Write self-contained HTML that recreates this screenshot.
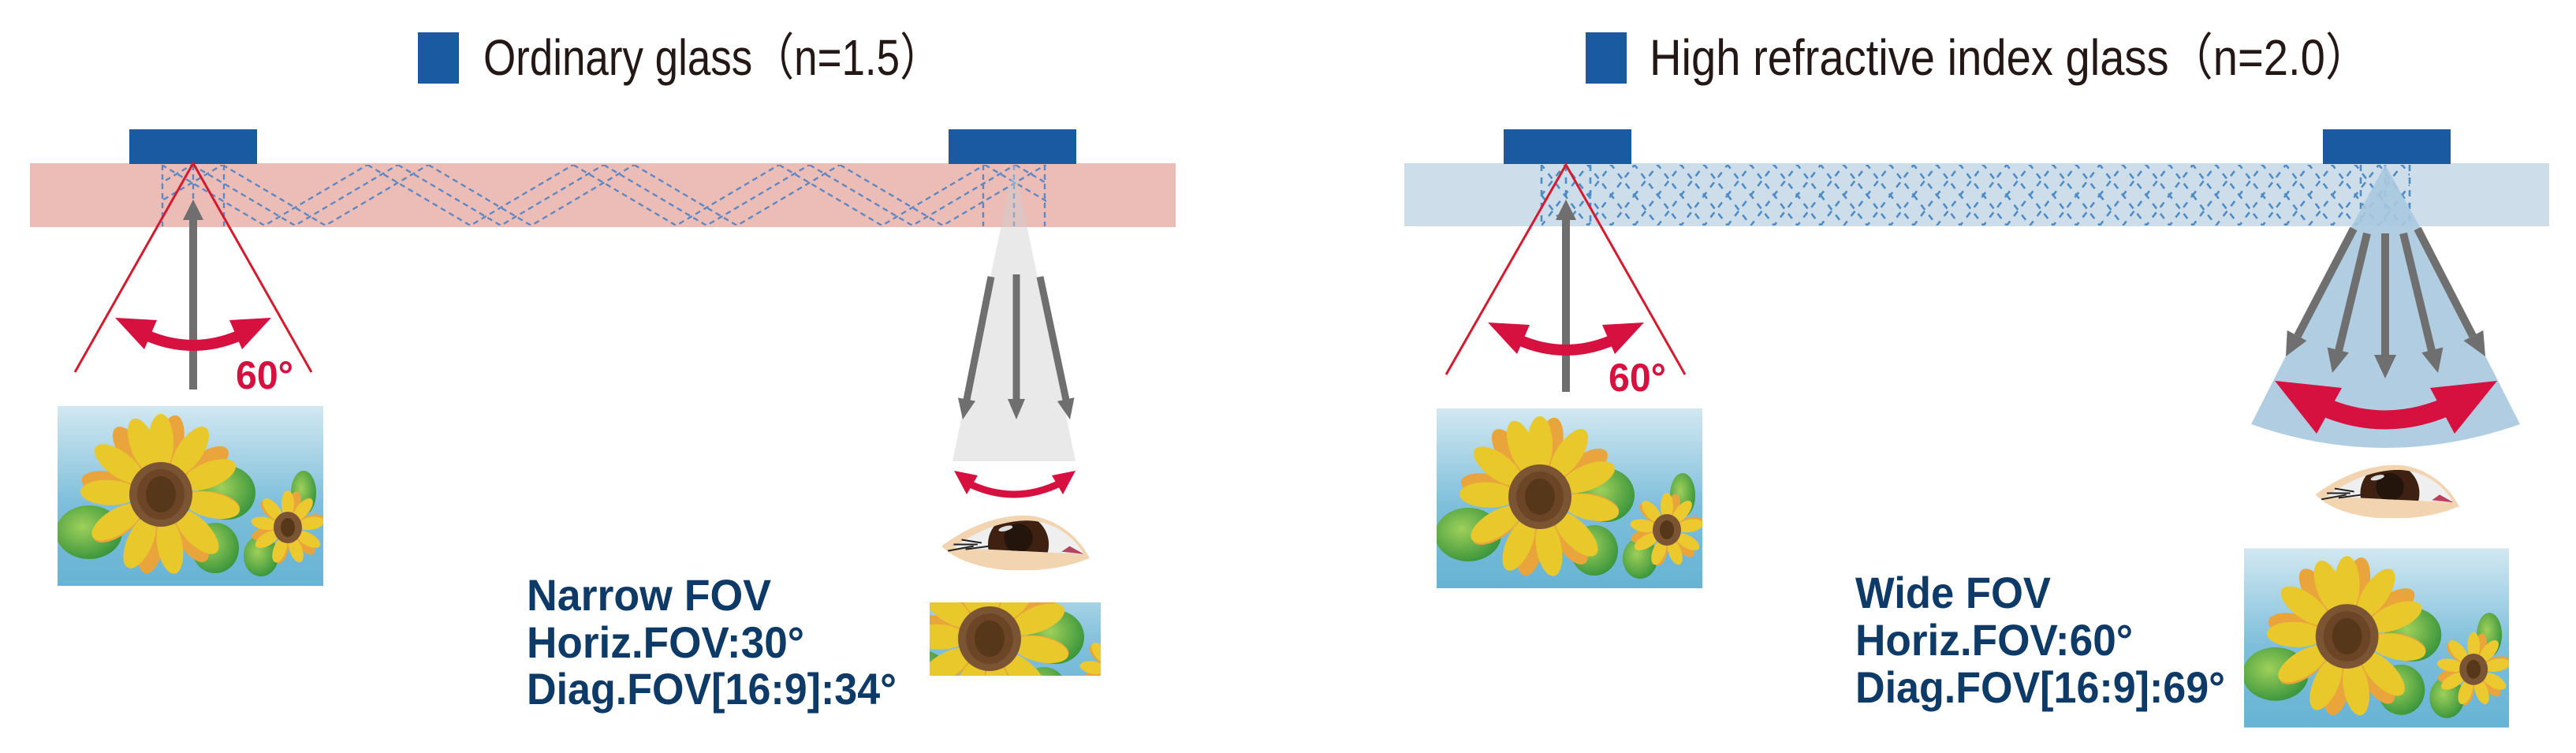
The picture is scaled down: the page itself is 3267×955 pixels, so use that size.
<!DOCTYPE html>
<html><head><meta charset="utf-8"><style>
html,body{margin:0;padding:0;background:#fff;}
svg{display:block;}
</style></head><body>
<svg width="3267" height="955" viewBox="0 0 3267 955" xmlns="http://www.w3.org/2000/svg">
<defs>
 <linearGradient id="sky" x1="0" y1="0" x2="0" y2="1">
  <stop offset="0" stop-color="#d2e8f1"/><stop offset="0.55" stop-color="#7dbedb"/><stop offset="1" stop-color="#67b3d4"/>
 </linearGradient>
 <radialGradient id="leaf" cx="0.4" cy="0.4" r="0.7">
  <stop offset="0" stop-color="#9fd05a"/><stop offset="1" stop-color="#2f8f3a"/>
 </radialGradient>
 <ellipse id="pb" cx="0" cy="-66" rx="16" ry="36"/>
 <ellipse id="ps" cx="0" cy="-30" rx="8" ry="17"/>
 <symbol id="sf" viewBox="0 0 337 228">
  <rect width="337" height="228" fill="url(#sky)"/>
  <ellipse cx="40" cy="160" rx="42" ry="34" fill="url(#leaf)"/>
  <ellipse cx="215" cy="110" rx="36" ry="34" fill="url(#leaf)"/>
  <ellipse cx="200" cy="180" rx="30" ry="32" fill="url(#leaf)"/>
  <ellipse cx="312" cy="110" rx="16" ry="28" fill="url(#leaf)"/>
  <ellipse cx="258" cy="190" rx="22" ry="26" fill="url(#leaf)"/>
  <g transform="translate(131,112)">
   <g fill="#e9a53b">
    <use href="#pb" transform="rotate(11)"/><use href="#pb" transform="rotate(56)"/><use href="#pb" transform="rotate(101)"/><use href="#pb" transform="rotate(146)"/><use href="#pb" transform="rotate(191)"/><use href="#pb" transform="rotate(236)"/><use href="#pb" transform="rotate(281)"/><use href="#pb" transform="rotate(326)"/>
   </g>
   <g fill="#e9c82c">
    <use href="#pb" transform="rotate(0)"/><use href="#pb" transform="rotate(34)"/><use href="#pb" transform="rotate(68)"/><use href="#pb" transform="rotate(102)"/><use href="#pb" transform="rotate(136)"/><use href="#pb" transform="rotate(170)"/><use href="#pb" transform="rotate(204)"/><use href="#pb" transform="rotate(238)"/><use href="#pb" transform="rotate(272)"/><use href="#pb" transform="rotate(306)"/><use href="#pb" transform="rotate(340)"/>
   </g>
   <ellipse rx="40" ry="41" fill="#7b5533"/>
   <ellipse rx="30" ry="32" fill="#6b4526"/>
   <ellipse rx="19" ry="23" fill="#573719"/>
  </g>
  <g transform="translate(292,154)">
   <g fill="#e9a53b">
    <use href="#ps" transform="rotate(15)"/><use href="#ps" transform="rotate(75)"/><use href="#ps" transform="rotate(135)"/><use href="#ps" transform="rotate(195)"/><use href="#ps" transform="rotate(255)"/><use href="#ps" transform="rotate(315)"/>
   </g>
   <g fill="#ecc92e">
    <use href="#ps" transform="rotate(0)"/><use href="#ps" transform="rotate(40)"/><use href="#ps" transform="rotate(80)"/><use href="#ps" transform="rotate(120)"/><use href="#ps" transform="rotate(160)"/><use href="#ps" transform="rotate(200)"/><use href="#ps" transform="rotate(240)"/><use href="#ps" transform="rotate(280)"/><use href="#ps" transform="rotate(320)"/>
   </g>
   <ellipse rx="18" ry="20" fill="#7b5533"/>
   <ellipse rx="9" ry="12" fill="#573719"/>
  </g>
 </symbol>
 <clipPath id="eyeclip"><path d="M15,42 C45,20 75,9 105,8 C140,8 165,28 178,50 Z"/></clipPath>
 <symbol id="eye" viewBox="0 0 185 70">
  <path d="M0,40 C40,10 80,0 110,2 C140,5 170,25 185,55 C150,70 110,72 80,70 C40,66 15,55 0,40 Z" fill="#f2d4b0"/>
  <path d="M15,42 C45,20 75,9 105,8 C140,8 165,28 178,50 Z" fill="#efefef"/>
  <g clip-path="url(#eyeclip)">
   <circle cx="96" cy="38" r="38" fill="#3e2110"/>
   <circle cx="96" cy="30" r="18" fill="#24150c"/>
   <path d="M160,40 L178,50 L150,47Z" fill="#b94060"/>
  </g>
  <ellipse cx="80" cy="18" rx="9" ry="3" fill="#ddd" transform="rotate(-15 80 18)"/>
  <g stroke="#222" stroke-width="2">
   <line x1="40" y1="40" x2="8" y2="46"/><line x1="45" y1="38" x2="15" y2="38"/><line x1="50" y1="36" x2="25" y2="32"/><line x1="60" y1="40" x2="30" y2="44"/>
  </g>
 </symbol>
 <pattern id="zl" patternUnits="userSpaceOnUse" x="205" y="209" width="261" height="77">
  <g fill="none" stroke="#5f88c2" stroke-width="2.4" stroke-dasharray="7 5">
   <path d="M0,0 L130.5,77 L261,0"/>
   <path d="M38.6,0 L169.1,77 L299.6,0 M-222.4,0 L-91.9,77 L38.6,0"/>
   <path d="M77.2,0 L207.7,77 L338.2,0 M-183.8,0 L-53.3,77 L77.2,0"/>
  </g>
 </pattern>
 <pattern id="zr" patternUnits="userSpaceOnUse" x="1955" y="209" width="118" height="77">
  <g fill="none" stroke="#4f8cc6" stroke-width="2.6" stroke-dasharray="8 8">
   <path d="M-118,0 L-59,77 L0,0 L59,77 L118,0 L177,77"/>
   <path d="M-88.5,0 L-29.5,77 L29.5,0 L88.5,77 L147.5,0"/>
   <path d="M-59,0 L0,77 L59,0 L118,77 L177,0"/>
   <path d="M-29.5,0 L29.5,77 L88.5,0 L147.5,77"/>
  </g>
 </pattern>
</defs>

<!-- ================= LEFT PANEL ================= -->
<rect x="530" y="41" width="52" height="65" fill="#1a5aa1"/>
<text x="613" y="95" font-family="Liberation Sans, Noto Sans CJK JP, sans-serif" font-size="64" fill="#231815" textLength="581" lengthAdjust="spacingAndGlyphs">Ordinary glass（n=1.5）</text>

<rect x="38" y="207" width="1453" height="81" fill="#ecbdb7"/>
<rect x="205" y="209" width="1122" height="77" fill="url(#zl)"/>
<g stroke="#5f88c2" stroke-width="2.4" stroke-dasharray="7 5">
 <line x1="206" y1="209" x2="206" y2="287"/><line x1="245" y1="209" x2="245" y2="287"/><line x1="284" y1="209" x2="284" y2="287"/>
 <line x1="1247" y1="209" x2="1247" y2="287"/><line x1="1286" y1="209" x2="1286" y2="287"/><line x1="1325" y1="209" x2="1325" y2="287"/>
</g>
<rect x="164" y="164" width="162" height="44" fill="#1a5aa1"/>
<rect x="1203" y="164" width="162" height="44" fill="#1a5aa1"/>

<polyline points="95,472 245,207 395,472" fill="none" stroke="#d7192e" stroke-width="3"/>
<line x1="245" y1="494" x2="245" y2="272" stroke="#6f6f6f" stroke-width="10"/>
<polygon points="245,253 232,279 258,279" fill="#6f6f6f"/>
<path d="M183,424 Q245,452 307,424" fill="none" stroke="#d6103f" stroke-width="14"/>
<polygon points="146,403 199,406 183,443" fill="#d6103f"/>
<polygon points="344,403 291,406 307,443" fill="#d6103f"/>
<text x="299" y="493" font-family="Liberation Sans, sans-serif" font-weight="bold" font-size="50" fill="#d6103f" textLength="73" lengthAdjust="spacingAndGlyphs">60°</text>
<use href="#sf" x="73" y="515" width="337" height="228"/>

<polygon points="1286,207 1208,585 1364,585" fill="#cfcfcf" fill-opacity="0.45"/>
<g stroke="#6f6f6f" stroke-width="9">
 <line x1="1257" y1="351" x2="1226" y2="507"/>
 <line x1="1289" y1="348" x2="1289" y2="507"/>
 <line x1="1319" y1="351" x2="1352" y2="507"/>
</g>
<g fill="#6f6f6f">
 <polygon points="1221,532 1237,508.6 1215,504.4"/>
 <polygon points="1289,532 1278,506 1300,506"/>
 <polygon points="1357,532 1362.5,504.3 1340.9,508.9"/>
</g>
<path d="M1226,612 Q1286,642 1346,612" fill="none" stroke="#d6103f" stroke-width="9"/>
<polygon points="1210,597 1240,603 1226,627" fill="#d6103f"/>
<polygon points="1364,597 1334,603 1348,627" fill="#d6103f"/>
<use href="#eye" x="1194" y="652" width="188" height="71"/>
<svg x="1179" y="764" width="217" height="93" viewBox="55 66 217 93" preserveAspectRatio="none"><use href="#sf" x="0" y="0" width="337" height="228"/></svg>

<g font-family="Liberation Sans, sans-serif" font-weight="bold" font-size="56" fill="#0e3a68">
 <text x="668" y="774" textLength="310" lengthAdjust="spacingAndGlyphs">Narrow FOV</text>
 <text x="668" y="834" textLength="352" lengthAdjust="spacingAndGlyphs">Horiz.FOV:30°</text>
 <text x="668" y="893" textLength="469" lengthAdjust="spacingAndGlyphs">Diag.FOV[16:9]:34°</text>
</g>

<!-- ================= RIGHT PANEL ================= -->
<rect x="2011" y="41" width="52" height="65" fill="#1a5aa1"/>
<text x="2092" y="95" font-family="Liberation Sans, Noto Sans CJK JP, sans-serif" font-size="64" fill="#231815" textLength="913" lengthAdjust="spacingAndGlyphs">High refractive index glass（n=2.0）</text>

<rect x="1781" y="207" width="1452" height="80" fill="#cddeea"/>
<rect x="1955" y="209" width="1101" height="77" fill="url(#zr)"/>
<g stroke="#4f8cc6" stroke-width="2.6" stroke-dasharray="8 8">
 <line x1="1955" y1="209" x2="1955" y2="287"/><line x1="1986" y1="209" x2="1986" y2="287"/><line x1="2017" y1="209" x2="2017" y2="287"/>
 <line x1="2994" y1="209" x2="2994" y2="287"/><line x1="3025" y1="209" x2="3025" y2="287"/><line x1="3056" y1="209" x2="3056" y2="287"/>
</g>
<rect x="1907" y="164" width="162" height="44" fill="#1a5aa1"/>
<rect x="2946" y="164" width="162" height="44" fill="#1a5aa1"/>

<polyline points="1834,475 1986,209 2137,475" fill="none" stroke="#d7192e" stroke-width="3"/>
<line x1="1986" y1="497" x2="1986" y2="272" stroke="#6f6f6f" stroke-width="10"/>
<polygon points="1986,253 1973,279 1999,279" fill="#6f6f6f"/>
<path d="M1924,430 Q1986,458 2048,430" fill="none" stroke="#d6103f" stroke-width="14"/>
<polygon points="1887,409 1940,412 1924,449" fill="#d6103f"/>
<polygon points="2085,409 2032,412 2048,449" fill="#d6103f"/>
<text x="2040" y="496" font-family="Liberation Sans, sans-serif" font-weight="bold" font-size="50" fill="#d6103f" textLength="73" lengthAdjust="spacingAndGlyphs">60°</text>
<use href="#sf" x="1822" y="518" width="337" height="228"/>

<path d="M3025,209 L2983,286 L2855,538 Q3025,598 3196,538 L3068,286 Z" fill="#a9c8df" fill-opacity="0.9"/>
<g stroke="#6f6f6f" stroke-width="10">
 <line x1="2985" y1="290" x2="2914" y2="426"/>
 <line x1="3002" y1="296" x2="2966" y2="445"/>
 <line x1="3025" y1="296" x2="3025" y2="451"/>
 <line x1="3048" y1="296" x2="3084" y2="445"/>
 <line x1="3066" y1="290" x2="3136" y2="426"/>
</g>
<g fill="#6f6f6f">
 <polygon points="2899,452 2925.5,432.1 2900.7,418.9"/>
 <polygon points="2958,473 2978.8,447.3 2951.6,440.5"/>
 <polygon points="3025,480 3039,450 3011,450"/>
 <polygon points="3092,473 3071.2,447.3 3098.4,440.5"/>
 <polygon points="3152,452 3124.5,432.1 3149.3,418.9"/>
</g>
<path d="M2945,515 Q3025,550 3105,515" fill="none" stroke="#d6103f" stroke-width="24"/>
<polygon points="2885,483 2970,492 2938,550" fill="#d6103f"/>
<polygon points="3167,483 3082,492 3113,550" fill="#d6103f"/>
<use href="#eye" x="2935" y="588" width="185" height="69"/>
<use href="#sf" x="2846" y="695" width="336" height="228"/>

<g font-family="Liberation Sans, sans-serif" font-weight="bold" font-size="56" fill="#0e3a68">
 <text x="2353" y="771" textLength="248" lengthAdjust="spacingAndGlyphs">Wide FOV</text>
 <text x="2353" y="831" textLength="352" lengthAdjust="spacingAndGlyphs">Horiz.FOV:60°</text>
 <text x="2353" y="891" textLength="469" lengthAdjust="spacingAndGlyphs">Diag.FOV[16:9]:69°</text>
</g>
</svg>
</body></html>
